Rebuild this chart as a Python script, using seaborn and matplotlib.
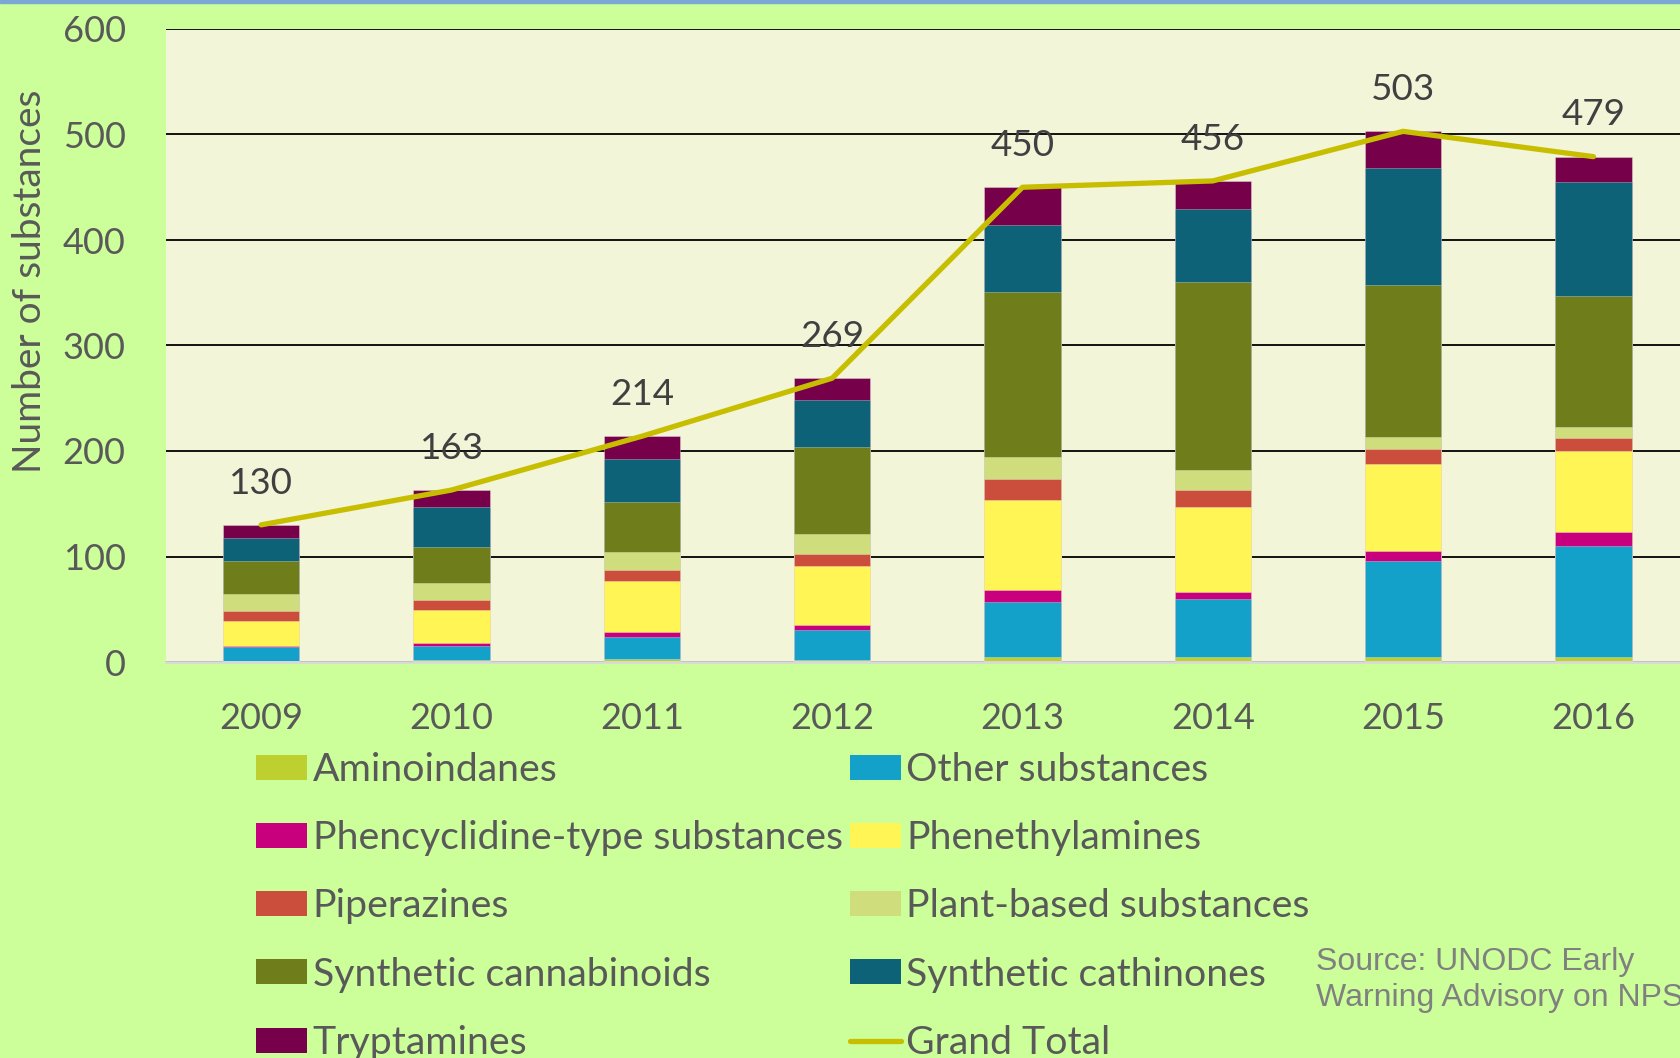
import numpy as np
import matplotlib
matplotlib.use("Agg")
import matplotlib.pyplot as plt
import seaborn as sns
from matplotlib.patches import Rectangle, Patch
from matplotlib.lines import Line2D

# ---------------- data ----------------
years = ["2009", "2010", "2011", "2012", "2013", "2014", "2015", "2016"]
aminoindanes = [1, 2, 3, 2, 5, 5, 5, 5]
other_substances = [13, 13, 21, 28, 52, 55, 91, 105]
phencyclidine = [1, 3, 4, 5, 11, 6, 9, 13]
phenethylamines = [24, 31, 49, 56, 86, 81, 83, 77]
piperazines = [9, 10, 10, 11, 19, 16, 14, 12]
plant_based = [16, 16, 17, 19, 21, 19, 11, 11]
synth_cannabinoids = [32, 34, 48, 83, 157, 178, 144, 124]
synth_cathinones = [22, 38, 40, 44, 63, 69, 111, 108]
tryptamines = [12, 16, 22, 21, 36, 27, 35, 24]
grand_total = [130, 163, 214, 269, 450, 456, 503, 479]

series_names = ["Aminoindanes", "Other substances", "Phencyclidine-type substances",
                "Phenethylamines", "Piperazines", "Plant-based substances",
                "Synthetic cannabinoids", "Synthetic cathinones", "Tryptamines"]
series_values = [aminoindanes, other_substances, phencyclidine, phenethylamines,
                 piperazines, plant_based, synth_cannabinoids, synth_cathinones, tryptamines]
series_colors = ["#BDD030", "#13A1C9", "#C8007E", "#FFF555", "#CB4D3B",
                 "#CFDD7D", "#707D1B", "#0D6277", "#76004A"]
line_color = "#C8BE00"

# ---------------- figure ----------------
W, H = 1681, 1058
sns.set_theme(style="white")
plt.rcParams['font.family'] = ['Lato', 'DejaVu Sans']

fig = plt.figure(figsize=(W / 100, H / 100), dpi=100, facecolor="#CCFF99")
ax = fig.add_axes([166 / W, 1 - 662 / H, 1 - 166 / W, (662 - 29) / H])
ax.set_facecolor("#F2F5D8")

cum = np.cumsum(np.array(series_values), axis=0)
for k in reversed(range(len(series_names))):
    sns.barplot(x=years, y=cum[k], color=series_colors[k], saturation=1,
                width=0.4, errorbar=None, label=series_names[k], ax=ax,
                linewidth=0.6, edgecolor=(1, 1, 1, 0.35))

sns.lineplot(x=years, y=grand_total, color=line_color, linewidth=3.8, ax=ax,
             label="Grand Total", sort=False, solid_capstyle="round", zorder=5)

if ax.get_legend() is not None:
    ax.get_legend().remove()

for i, t in enumerate(grand_total):
    ax.annotate(str(t), (i, t), xytext=(0, 30), textcoords="offset points",
                ha="center", va="center", fontsize=26.5, color="#404040")

ax.set_xlim(-0.5, 7.46)
ax.set_ylim(0, 600)
ax.set_yticks(range(0, 601, 100))
ax.set_axisbelow(True)
ax.yaxis.grid(True, color="black", linewidth=1.3)
ax.xaxis.grid(False)
for s in ["top", "left", "right"]:
    ax.spines[s].set_visible(False)
ax.spines["bottom"].set_color("#D9D9D9")
ax.spines["bottom"].set_linewidth(2)
ax.tick_params(axis="both", length=0, labelsize=26, labelcolor="#595959")
ax.tick_params(axis="x", pad=28.5)
ax.tick_params(axis="y", pad=29)
ax.set_xlabel("")
ax.set_ylabel("")

fig.text(30 / W, 1 - 281 / H, "Number of substances", rotation=90, ha="center",
         va="center", fontsize=28, color="#595959")

# legend
handles = [Patch(facecolor=c, edgecolor="none") for c in series_colors]
handles.append(Line2D([0], [0], color=line_color, linewidth=3.8, solid_capstyle="round"))
labels = series_names + ["Grand Total"]
order = [0, 2, 4, 6, 8, 1, 3, 5, 7, 9]
fig.legend([handles[i] for i in order], [labels[i] for i in order], ncol=2,
           loc="upper left", bbox_to_anchor=(256 / W, 1 - 752 / H), frameon=False,
           fontsize=28.3, handlelength=1.31, handleheight=0.6, handletextpad=0.13,
           columnspacing=0.18, labelspacing=0.82, borderpad=0, borderaxespad=0,
           labelcolor="#595959")

fig.text(1316 / W, 1 - 980 / H, "Source: UNODC Early\nWarning Advisory on NPS",
         ha="left", va="center", fontsize=23, color="#808080",
         family=["Liberation Sans", "DejaVu Sans"], linespacing=1.3)

fig.patches.append(Rectangle((0, 1 - 3 / H), 1, 3 / H, transform=fig.transFigure,
                             color="#7BA7D5", zorder=10))

fig.savefig("out.png", dpi=100, facecolor=fig.get_facecolor())
